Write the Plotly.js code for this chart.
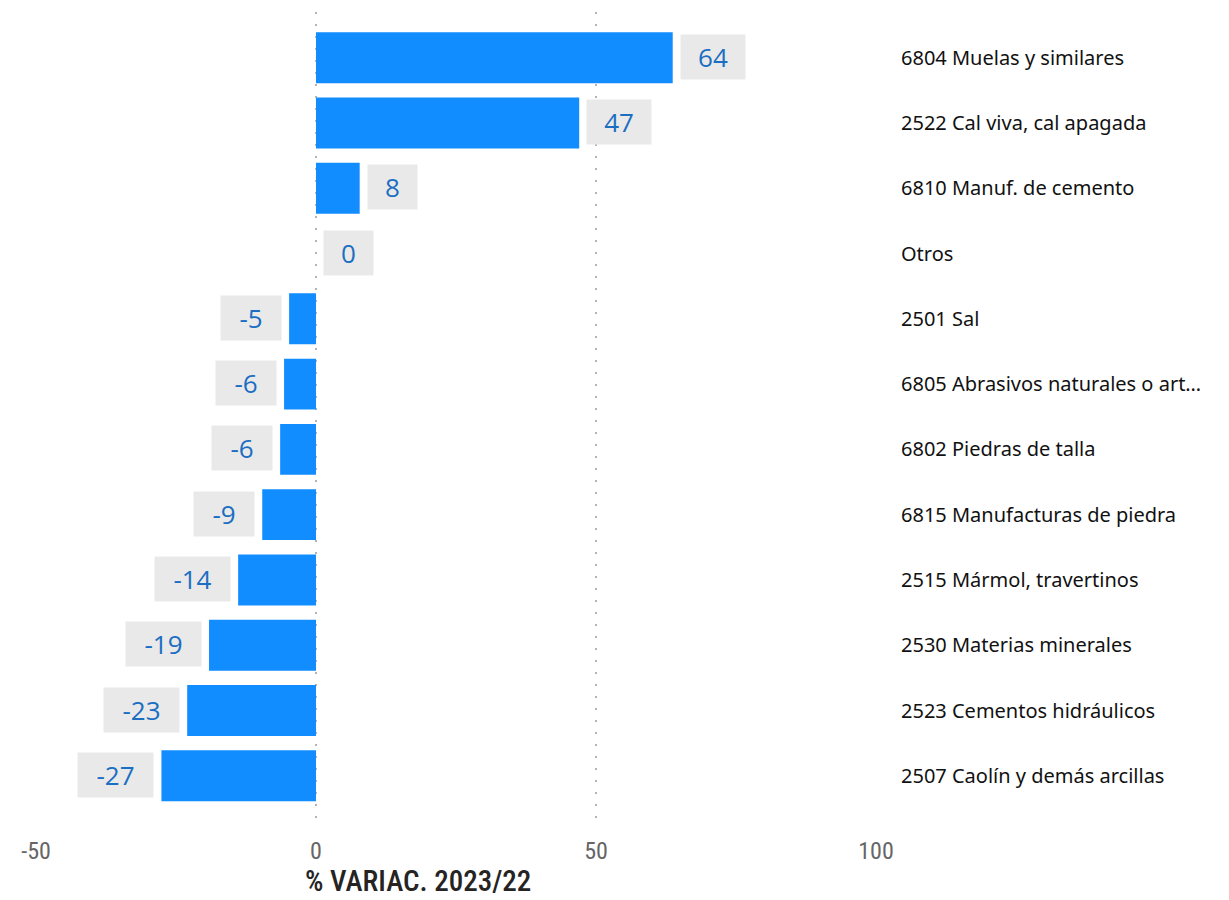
<!DOCTYPE html>
<html>
<head>
<meta charset="utf-8">
<script src="https://cdn.plot.ly/plotly-3.0.1.min.js"></script>
<style>
html,body{margin:0;padding:0;background:#fff;}
#chart{width:1229px;height:900px;}
</style>
</head>
<body>
<div id="chart"></div>
<script>
// Data (top to bottom)
const categories = [
  "6804 Muelas y similares",
  "2522 Cal viva, cal apagada",
  "6810 Manuf. de cemento",
  "Otros",
  "2501 Sal",
  "6805 Abrasivos naturales o art…",
  "6802 Piedras de talla",
  "6815 Manufacturas de piedra",
  "2515 Mármol, travertinos",
  "2530 Materias minerales",
  "2523 Cementos hidráulicos",
  "2507 Caolín y demás arcillas"
];
const variation = [63.7, 47.0, 7.8, 0, -4.8, -5.7, -6.4, -9.6, -13.9, -19.1, -23.0, -27.6];
const valueLabels = ["64", "47", "8", "0", "-5", "-6", "-6", "-9", "-14", "-19", "-23", "-27"];
const xTicks = [-50, 0, 50, 100];
const axisTitle = "% VARIAC. 2023/22";

const BAR_COLOR = "#118DFF";
const LABEL_COLOR = "#1B6EC2";
const BOX_COLOR = "#E9E9E9";
const NARROW = "Liberation Sans Narrow, Roboto Condensed, Roboto, sans-serif";

function boxWidth(s) {
  let w = 0;
  for (const ch of s) w += (ch === "-") ? 11 : 15;
  return w + 24;
}

const annotations = categories.map((c, i) => {
  const v = variation[i];
  const pos = v >= 0;
  return {
    x: v, y: c, xref: "x", yref: "y",
    text: valueLabels[i],
    showarrow: false,
    xanchor: pos ? "left" : "right",
    yanchor: "middle",
    xshift: pos ? 7 : -7,
    yshift: 1,
    bgcolor: BOX_COLOR,
    borderpad: 5,
    width: boxWidth(valueLabels[i]),
    height: 34,
    align: "center",
    valign: "middle",
    font: {family: "Open Sans, Noto Sans, sans-serif", size: 26, color: LABEL_COLOR}
  };
});

annotations.push({
  xref: "paper", yref: "paper",
  x: 0.455, y: -0.0882,
  xanchor: "center", yanchor: "bottom",
  showarrow: false,
  text: axisTitle,
  font: {family: NARROW, size: 29, color: "#252423", weight: 500}
});

const trace = {
  type: "bar",
  orientation: "h",
  x: variation,
  y: categories,
  marker: {color: BAR_COLOR},
  hoverinfo: "skip",
  cliponaxis: false
};

const layout = {
  width: 1229,
  height: 900,
  margin: {l: 36, r: 353, t: 12, b: 72},
  paper_bgcolor: "#fff",
  plot_bgcolor: "#fff",
  showlegend: false,
  bargap: 0.22,
  font: {family: "Open Sans, Noto Sans, sans-serif"},
  xaxis: {
    range: [-50, 100],
    tickvals: xTicks,
    ticktext: xTicks.map(String),
    showgrid: true,
    gridcolor: "#B4B4B4",
    gridwidth: 1.5,
    griddash: "1.5px,10.5px",
    zeroline: false,
    showline: false,
    ticks: "",
    tickfont: {family: NARROW, size: 24, color: "#666666"},
    ticklabelstandoff: 6,
    fixedrange: true
  },
  yaxis: {
    type: "category",
    categoryorder: "array",
    categoryarray: categories,
    range: [11.8, -0.7],
    side: "right",
    showgrid: false,
    zeroline: false,
    showline: false,
    ticks: "",
    ticklabelstandoff: 24,
    tickfont: {family: "Noto Sans, Open Sans, sans-serif", size: 20, color: "#111111"},
    fixedrange: true
  },
  annotations: annotations
};

Plotly.newPlot("chart", [trace], layout, {staticPlot: true, displayModeBar: false});
</script>
</body>
</html>
